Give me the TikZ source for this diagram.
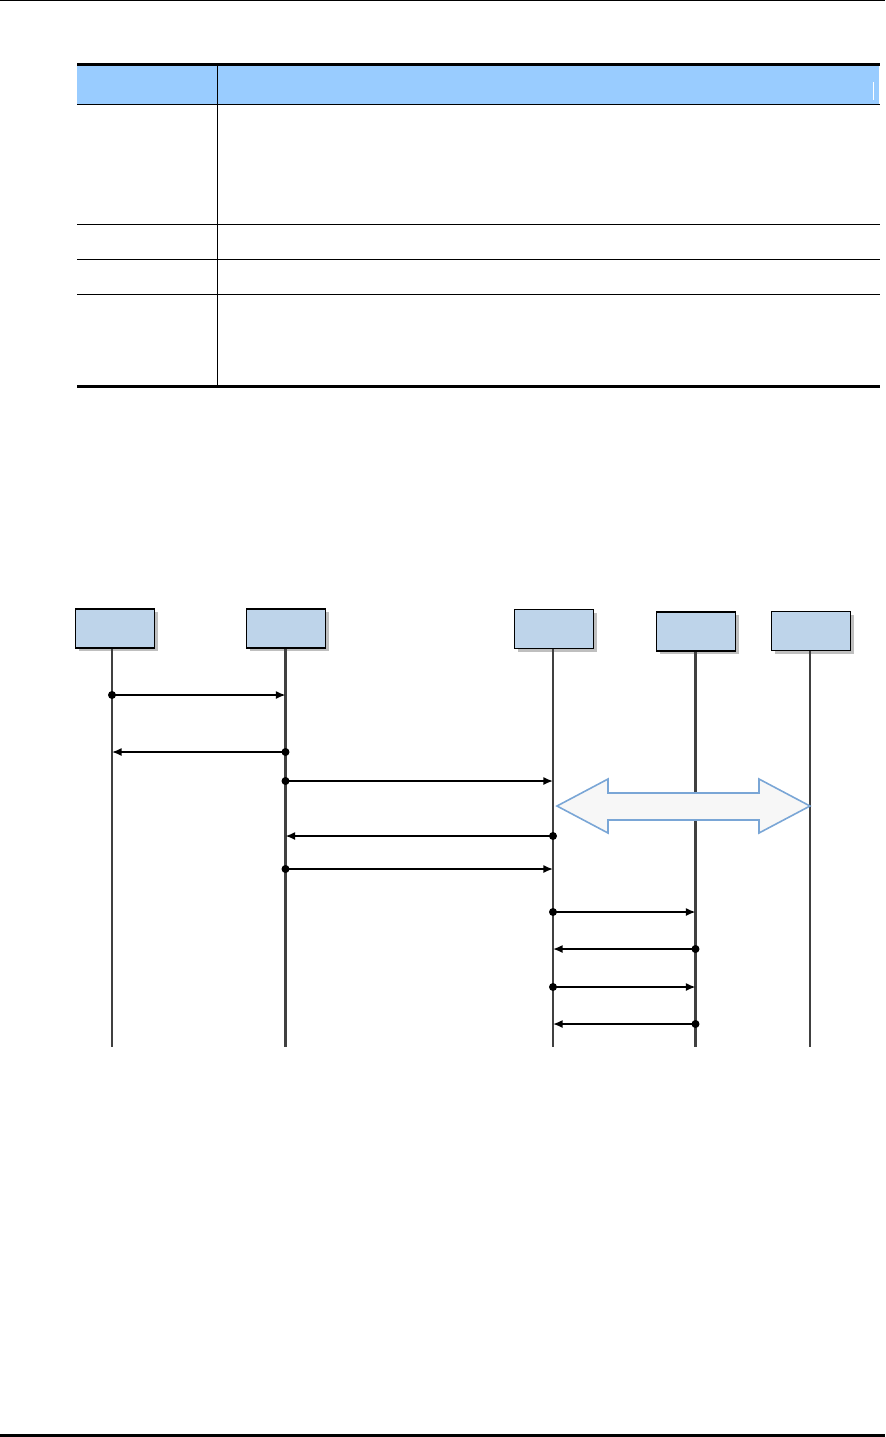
\documentclass[tikz,border=0pt]{standalone}
\usepackage{tikz}
\usetikzlibrary{arrows.meta,shadows}
\definecolor{hdrblue}{RGB}{153,204,255}
\definecolor{boxblue}{RGB}{190,212,234}
\definecolor{arrblue}{RGB}{122,166,214}
\definecolor{arrfill}{RGB}{247,247,247}

\begin{document}
\begin{tikzpicture}[
    x=0.5pt, y=-0.5pt,
    ent/.style={draw, line width=0.6pt, fill=boxblue, minimum width=39.5pt,
        minimum height=19.5pt, inner sep=0pt,
        drop shadow={shadow xshift=1.5pt, shadow yshift=-1.5pt, fill=black!25, opacity=1}},
    life/.style={draw=black!75, line width=1.1pt},
    msg/.style={-{Latex[length=4.8pt,width=4pt]}, line width=0.8pt},
    dot/.style={circle, fill=black, inner sep=0pt, minimum size=4pt},
    rule/.style={line width=0.5pt},
    heavy/.style={line width=1.5pt}
    ]
    \useasboundingbox (0,0) rectangle (885,1437);
    \draw[rule]  (0,0.5) -- (885,0.5);
    \draw[heavy] (0,1435.5) -- (885,1435.5);

    % table
    \fill[hdrblue] (77,66) rectangle (879,104);
    \draw[white, line width=0.3pt] (873,82) -- (873,100);
    \draw[heavy] (77,64.5) -- (880,64.5);
    \draw[rule]  (77,104.5) -- (880,104.5);
    \foreach \yy in {224,259,294}
        \draw[rule] (77,\yy) -- (880,\yy);
    \draw[heavy] (77,386) -- (880,386);
    \draw[rule]  (217,66) -- (217,386);

    % sequence chart
    \node[ent] (entA) at (115,628.5) {};
    \node[ent] (entB) at (286,628.5) {};
    \node[ent] (entC) at (554,629)   {};
    \node[ent] (entD) at (696,631.5) {};
    \node[ent] (entE) at (811,631)   {};
    \coordinate (llA) at (112,649);
    \coordinate (llB) at (285.5,649);
    \coordinate (llC) at (553,649);
    \coordinate (llD) at (695.5,652);
    \coordinate (llE) at (810,651);
    \foreach \n in {A,B,C,D,E}
        \draw[life] (ll\n) -- (ll\n |- 0,1047);

    \filldraw[draw=arrblue, fill=arrfill, line width=0.8pt]
        (557,806) -- (608,779) -- (608,793) -- (759,793) -- (759,779) -- (810,806)
        -- (759,833) -- (759,820) -- (608,820) -- (608,833) -- cycle;

    \foreach \yy/\src/\dst in {695/A/B, 752/B/A, 781/B/C, 836/C/B, 869/B/C,
                               912/C/D, 949/D/C, 987/C/D, 1024/D/C} {
        \draw[msg] (ll\src |- 0,\yy) -- (ll\dst |- 0,\yy);
        \node[dot] (dot\yy) at (ll\src |- 0,\yy) {};
    }
\end{tikzpicture}
\end{document}
